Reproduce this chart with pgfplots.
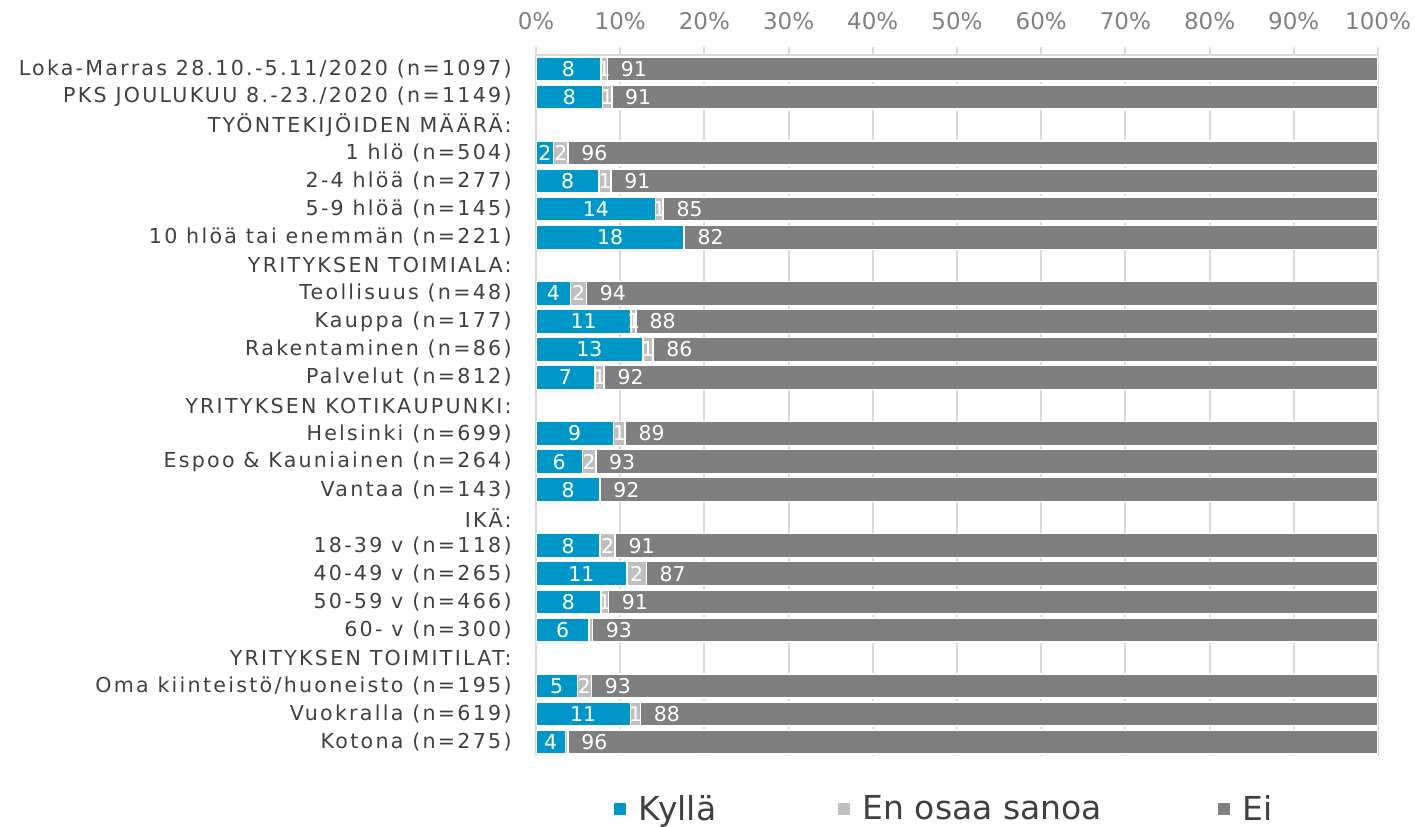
\documentclass[border=0pt]{standalone}
\usepackage{fontspec}
\setmainfont{DejaVu Sans}
\newfontfamily\lblfont[LetterSpace=11]{DejaVu Sans}
\usepackage{pgfplots}
\usepackage{pgfplotstable}
\pgfplotsset{compat=1.18}
\definecolor{cKyl}{HTML}{0096C8}
\definecolor{cEos}{HTML}{BFBFBF}
\definecolor{cEi}{HTML}{7F7F7F}
\definecolor{cGrid}{HTML}{D9D9D9}
\definecolor{cTick}{HTML}{808080}
\definecolor{cTxt}{HTML}{404040}

\pgfplotstableread{
y kyl eos ei lk le li
0 7.7 0.8 91.5 8 1 91
1 7.9 1.1 91.0 8 1 91
3 2.1 1.7 96.2 2 2 96
4 7.5 1.4 91.1 8 1 91
5 14.2 0.9 84.9 14 1 85
6 17.6 0.0 82.4 18 {} 82
8 4.1 1.9 94.0 4 2 94
9 11.3 0.6 88.1 11 1 88
10 12.7 1.2 86.1 13 1 86
11 7.0 1.1 91.9 7 1 92
13 9.2 1.4 89.4 9 1 89
14 5.5 1.6 92.9 6 2 93
15 7.6 0.0 92.4 8 {} 92
17 7.6 1.8 90.6 8 2 91
18 10.8 2.3 86.9 11 2 87
19 7.7 0.9 91.4 8 1 91
20 6.3 0.4 93.3 6 {} 93
22 4.9 1.7 93.4 5 2 93
23 11.2 1.2 87.6 11 1 88
24 3.5 0.3 96.2 4 {} 96
}\data

\begin{document}
\begin{tikzpicture}
\useasboundingbox (-268bp,-35.5bp) rectangle (439.5bp,378bp);
\begin{axis}[
  at={(0,0)}, anchor=south west, scale only axis,
  width=421bp, height=350.5bp,
  xbar stacked, bar width=12bp,
  xmin=0, xmax=100, ymin=-0.5, ymax=24.5, y dir=reverse,
  axis x line=top, axis y line=left,
  axis line style={-, draw=cGrid, line width=1bp},
  xmajorgrids, grid style={draw=cGrid, line width=1bp},
  xtick={0,10,...,100},
  xticklabel={\pgfmathprintnumber{\tick}\%},
  /pgf/number format/assume math mode=true,
  xticklabel style={font=\fontsize{11.5bp}{13bp}\selectfont, text=cTick, yshift=5bp},
  tick align=outside, major tick length=4bp,
  xtick style={draw=cGrid, line width=1bp},
  ytick={0,...,24},
  yticklabels={{Loka-Marras 28.10.-5.11/2020 (n=1097)},{PKS JOULUKUU 8.-23./2020 (n=1149)},{TYÖNTEKIJÖIDEN MÄÄRÄ:},{1 hlö (n=504)},{2-4 hlöä (n=277)},{5-9 hlöä (n=145)},{10 hlöä tai enemmän (n=221)},{YRITYKSEN TOIMIALA:},{Teollisuus (n=48)},{Kauppa (n=177)},{Rakentaminen (n=86)},{Palvelut (n=812)},{YRITYKSEN KOTIKAUPUNKI:},{Helsinki (n=699)},{Espoo \& Kauniainen (n=264)},{Vantaa (n=143)},{IKÄ:},{18-39 v (n=118)},{40-49 v (n=265)},{50-59 v (n=466)},{60- v (n=300)},{YRITYKSEN TOIMITILAT:},{Oma kiinteistö/huoneisto (n=195)},{Vuokralla (n=619)},{Kotona (n=275)}},
  ytick style={draw=none},
  yticklabel style={font=\lblfont\fontsize{10.3bp}{12bp}\selectfont, text=cTxt, inner sep=0pt, xshift=-8bp},
  legend image code/.code={\fill[#1] (0bp,-3.5bp) rectangle (7bp,3.5bp);},
  legend style={at={(0.0903,0)}, anchor=west, yshift=-26.5bp, draw=none, fill=none,
    inner sep=0pt, nodes={inner sep=0pt}, legend columns=3,
    font=\fontsize{16.5bp}{19bp}\selectfont, text=cTxt,
    /tikz/column 1/.style={column sep=5.5bp},
    /tikz/column 2/.style={column sep=60bp},
    /tikz/column 3/.style={column sep=5.5bp},
    /tikz/column 4/.style={column sep=57bp},
    /tikz/column 5/.style={column sep=5.5bp}},
]
\addplot[fill=cKyl, draw=white, line width=0.75bp] table[x=kyl, y=y]{\data};
\addplot[fill=cEos, draw=white, line width=0.75bp] table[x=eos, y=y]{\data};
\addplot[fill=cEi, draw=white, line width=0.75bp] table[x=ei, y=y]{\data};
\legend{Kyllä, En osaa sanoa, Ei}
\end{axis}
\begin{axis}[
  at={(0,0)}, anchor=south west, scale only axis,
  width=421bp, height=350.5bp,
  xmin=0, xmax=100, ymin=-0.5, ymax=24.5, y dir=reverse,
  hide axis, clip=false,
  nodes near coords, point meta=explicit symbolic,
  every node near coord/.style={font=\fontsize{10.2bp}{11bp}\selectfont, text=white, inner sep=0pt, anchor=center},
]
\addplot[draw=none] table[x expr=\thisrow{kyl}/2, y=y, meta=lk]{\data};
\addplot[draw=none] table[x expr=\thisrow{kyl}+\thisrow{eos}/2, y=y, meta=le]{\data};
\addplot[draw=none, nodes near coords style={anchor=west, xshift=6.5bp}] table[x expr=\thisrow{kyl}+\thisrow{eos}, y=y, meta=li]{\data};
\end{axis}
\end{tikzpicture}
\end{document}
